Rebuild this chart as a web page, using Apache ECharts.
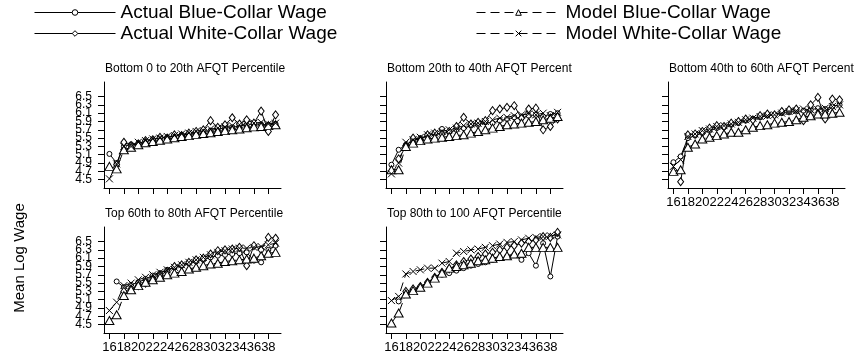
<!DOCTYPE html>
<html>
<head>
<meta charset="utf-8">
<script src="https://cdn.jsdelivr.net/npm/echarts@6/dist/echarts.min.js"></script>
<style>
html,body{margin:0;padding:0;background:#fff;}
#chart{width:854px;height:360px;}
</style>
</head>
<body>
<div id="chart"></div>
<script>
const ages = [16,17,18,19,20,21,22,23,24,25,26,27,28,29,30,31,32,33,34,35,36,37,38,39];
const xTicks = [16,18,20,22,24,26,28,30,32,34,36,38];
const yTicks = [4.5,4.7,4.9,5.1,5.3,5.5,5.7,5.9,6.1,6.3,6.5];
const yLabelsA = [4.5,4.9,5.3,5.7,6.1,6.5];
const yLabelsB = [4.7,5.1,5.5,5.9,6.3];
const seriesNames = ['Actual Blue-Collar Wage','Actual White-Collar Wage','Model Blue-Collar Wage','Model White-Collar Wage'];
const panelTitles = ['Bottom 0 to 20th AFQT Percentile','Bottom 20th to 40th AFQT Percent','Bottom 40th to 60th AFQT Percent','Top 60th to 80th AFQT Percentile','Top 80th to 100 AFQT Percentile'];

// Panel 1: Bottom 0 to 20th
const p1ActualBlue  = [5.12,4.90,5.30,5.35,5.38,5.42,5.47,5.50,5.52,5.55,5.58,5.60,5.63,5.66,5.68,5.72,5.74,5.76,5.79,5.82,5.84,5.83,5.82,5.84];
const p1ActualWhite = [null,4.86,5.40,5.32,5.36,5.44,5.46,5.52,5.50,5.58,5.56,5.62,5.66,5.70,5.92,5.76,5.82,5.99,5.84,5.94,5.86,6.15,5.66,6.06];
const p1ModelBlue   = [4.82,4.76,5.22,5.28,5.34,5.39,5.42,5.45,5.48,5.51,5.54,5.56,5.59,5.61,5.63,5.66,5.68,5.70,5.72,5.75,5.77,5.78,5.80,5.82];
const p1ModelWhite  = [4.52,4.88,5.30,5.30,5.40,5.44,5.48,5.50,5.54,5.56,5.60,5.62,5.66,5.68,5.72,5.74,5.77,5.80,5.82,5.84,5.86,5.88,5.84,5.86];
// Panel 2: Bottom 20th to 40th
const p2ActualBlue  = [4.86,5.22,5.34,5.44,5.50,5.56,5.60,5.72,5.64,5.70,5.74,5.80,5.82,5.88,5.86,5.92,5.96,6.00,5.98,6.04,6.06,6.02,6.08,6.10];
const p2ActualWhite = [null,5.00,5.30,5.50,5.46,5.58,5.62,5.60,5.66,5.78,6.00,5.84,5.88,5.92,6.16,6.20,6.24,6.28,5.98,6.20,6.22,5.70,5.78,5.96];
const p2ModelBlue   = [4.74,4.74,5.30,5.38,5.44,5.48,5.50,5.52,5.54,5.56,5.58,5.62,5.66,5.70,5.74,5.78,5.82,5.84,5.86,5.88,5.90,5.94,5.98,6.02];
const p2ModelWhite  = [4.64,4.90,5.40,5.46,5.52,5.58,5.62,5.66,5.70,5.74,5.80,5.84,5.86,5.90,5.94,5.98,6.00,6.04,6.06,6.08,6.06,6.10,6.04,6.12];
// Panel 3: Bottom 40th to 60th
const p3ActualBlue  = [4.92,5.06,5.50,5.56,5.62,5.68,5.74,5.76,5.82,5.86,5.92,5.96,6.00,6.04,6.06,6.10,6.12,6.14,6.16,6.18,6.22,6.20,6.26,6.30];
const p3ActualWhite = [null,4.45,5.58,5.60,5.66,5.74,5.80,5.78,5.86,5.90,5.96,5.94,6.04,6.08,6.06,6.14,6.18,6.20,5.92,6.30,6.48,5.96,6.44,6.42];
const p3ModelBlue   = [4.70,4.74,5.28,5.36,5.48,5.52,5.56,5.60,5.64,5.64,5.70,5.76,5.80,5.82,5.86,5.88,5.90,5.94,6.00,6.04,6.08,6.08,6.10,6.12];
const p3ModelWhite  = [4.82,4.98,5.54,5.60,5.68,5.72,5.78,5.80,5.84,5.88,5.94,5.98,6.02,6.04,6.06,6.10,6.14,6.16,6.20,6.18,6.18,6.22,6.26,6.30];
// Panel 4: Top 60th to 80th
const p4ActualBlue  = [null,5.54,5.40,5.46,5.52,5.60,5.68,5.74,5.82,5.88,5.92,5.98,6.02,6.06,6.12,6.16,6.18,6.20,6.22,6.24,6.04,6.00,6.30,6.40];
const p4ActualWhite = [null,null,5.30,5.36,5.44,5.50,5.60,5.70,5.78,5.90,5.94,6.00,6.06,6.10,6.20,6.28,6.30,6.32,6.36,5.92,6.40,6.30,6.60,6.58];
const p4ModelBlue   = [4.60,4.74,5.20,5.34,5.44,5.52,5.58,5.64,5.70,5.74,5.78,5.84,5.88,5.92,5.96,5.98,6.02,6.04,6.06,6.08,6.10,6.16,6.22,6.24];
const p4ModelWhite  = [4.84,5.04,5.44,5.50,5.58,5.64,5.70,5.76,5.82,5.88,5.94,6.00,6.06,6.12,6.18,6.24,6.28,6.32,6.34,6.34,6.36,6.38,6.42,6.46];
// Panel 5: Top 80th to 100
const p5ActualBlue  = [null,5.06,5.24,5.34,5.40,5.50,5.62,5.70,5.74,5.80,5.86,5.92,5.96,6.00,6.06,6.10,6.14,6.18,6.06,6.22,5.92,6.46,5.66,6.62];
const p5ActualWhite = [null,null,5.30,5.36,5.42,5.52,5.64,5.76,5.84,5.94,6.02,6.08,6.14,6.20,6.24,6.30,6.36,6.40,6.46,6.50,6.54,6.62,6.60,6.72];
const p5ModelBlue   = [4.54,4.78,5.24,5.32,5.40,5.50,5.62,5.74,5.86,5.90,5.94,5.98,6.04,6.06,6.10,6.14,6.16,6.20,6.22,6.36,6.36,6.36,6.36,6.36];
const p5ModelWhite  = [5.08,5.18,5.72,5.78,5.82,5.86,5.86,5.98,6.02,6.22,6.26,6.30,6.32,6.36,6.40,6.44,6.48,6.50,6.54,6.58,6.60,6.62,6.64,6.66];

const panels = [
  [p1ActualBlue,p1ActualWhite,p1ModelBlue,p1ModelWhite],
  [p2ActualBlue,p2ActualWhite,p2ModelBlue,p2ModelWhite],
  [p3ActualBlue,p3ActualWhite,p3ModelBlue,p3ModelWhite],
  [p4ActualBlue,p4ActualWhite,p4ModelBlue,p4ModelWhite],
  [p5ActualBlue,p5ActualWhite,p5ModelBlue,p5ModelWhite]
];

const FONT = 'Liberation Sans, Arial, sans-serif';
const colLeft = [104, 386, 668];
const rowTop = [82, 227];
const gridW = 177, gridH = 106;
const pos = [[0,0],[0,1],[0,2],[1,0],[1,1]];
const showXLabel = [false,false,true,true,true];
const showYLabel = [true,false,false,true,false];

const xMark = 'path://M0 0L10 10M10 0L0 10';
const styles = [
  {symbol:'circle', symbolSize:5, dashed:false, fill:'#fff'},
  {symbol:'diamond', symbolSize:[6,8], dashed:false, fill:'#fff'},
  {symbol:'triangle', symbolSize:[9,8], dashed:true, fill:'#fff'},
  {symbol:xMark, symbolSize:7, dashed:true, fill:'#000'}
];

const yLabelStyle = (vals) => ({show:true, customValues:vals, margin:12, color:'#000', fontSize:12, fontFamily:FONT,
  hideOverlap:false, showMinLabel:true, showMaxLabel:true, formatter:(v)=>Number(v).toFixed(1)});

const grids=[], xAxes=[], yAxes=[], titles=[], series=[];
pos.forEach((p,i)=>{
  const left = colLeft[p[1]], top = rowTop[p[0]];
  grids.push({left:left, top:top, width:gridW, height:gridH, containLabel:false});
  xAxes.push({
    type:'value', gridIndex:i, min:15.25, max:39.75,
    splitLine:{show:false},
    axisLine:{show:true, onZero:false, lineStyle:{color:'#000', width:1}},
    axisTick:{show:true, length:6, customValues:xTicks, lineStyle:{color:'#000'}},
    axisLabel:{show:showXLabel[i], customValues:xTicks, margin:8, color:'#000', fontSize:13, fontFamily:FONT,
      hideOverlap:false, showMinLabel:true, showMaxLabel:true}
  });
  const yIndex = yAxes.length;
  yAxes.push({
    type:'value', gridIndex:i, min:4.3, max:6.85,
    splitLine:{show:false},
    axisLine:{show:true, onZero:false, lineStyle:{color:'#000', width:1}},
    axisTick:{show:true, length:6, customValues:yTicks, lineStyle:{color:'#000'}},
    axisLabel: showYLabel[i] ? yLabelStyle(yLabelsA) : {show:false}
  });
  if (showYLabel[i]) {
    yAxes.push({
      type:'value', gridIndex:i, min:4.3, max:6.85, position:'left', offset:0,
      splitLine:{show:false}, axisLine:{show:false}, axisTick:{show:false},
      axisLabel: yLabelStyle(yLabelsB)
    });
  }
  titles.push({text:panelTitles[i], left:left+1, top:top-19, padding:0,
    textStyle:{fontSize:12, fontWeight:'normal', color:'#000', fontFamily:FONT}});
  panels[i].forEach((vals,k)=>{
    const st = styles[k];
    series.push({
      name:seriesNames[k], type:'line', xAxisIndex:i, yAxisIndex:yIndex,
      data: ages.map((a,j)=>[a, vals[j]]),
      symbol:st.symbol, symbolSize:st.symbolSize, showAllSymbol:true,
      connectNulls:false, silent:true, animation:false,
      lineStyle:{color:'#000', width:1, type: st.dashed ? [9,5] : 'solid'},
      itemStyle:{color:st.fill, borderColor:'#000', borderWidth:1},
      emphasis:{disabled:true}
    });
  });
});

const legendCommon = {orient:'vertical', top:3, padding:0, itemHeight:7, itemGap:2, selectedMode:false,
  lineStyle:{width:1, color:'#000'}, itemStyle:{borderWidth:1, borderColor:'#000'},
  textStyle:{fontSize:19, color:'#000', fontFamily:FONT}};

const option = {
  backgroundColor:'#fff',
  animation:false,
  title: titles,
  legend:[
    Object.assign({data:[seriesNames[0],seriesNames[1]], left:34, itemWidth:81}, legendCommon),
    Object.assign({data:[seriesNames[2],seriesNames[3]], left:476, itemWidth:84}, legendCommon)
  ],
  grid: grids, xAxis: xAxes, yAxis: yAxes, series: series,
  graphic:[{
    type:'text', x:20, y:258, rotation:Math.PI/2,
    style:{text:'Mean Log Wage', fontSize:15, fontFamily:FONT, fill:'#000', align:'center', verticalAlign:'middle'}
  }]
};

const chart = echarts.init(document.getElementById('chart'), null, {renderer:'canvas'});
chart.setOption(option);
</script>
</body>
</html>
